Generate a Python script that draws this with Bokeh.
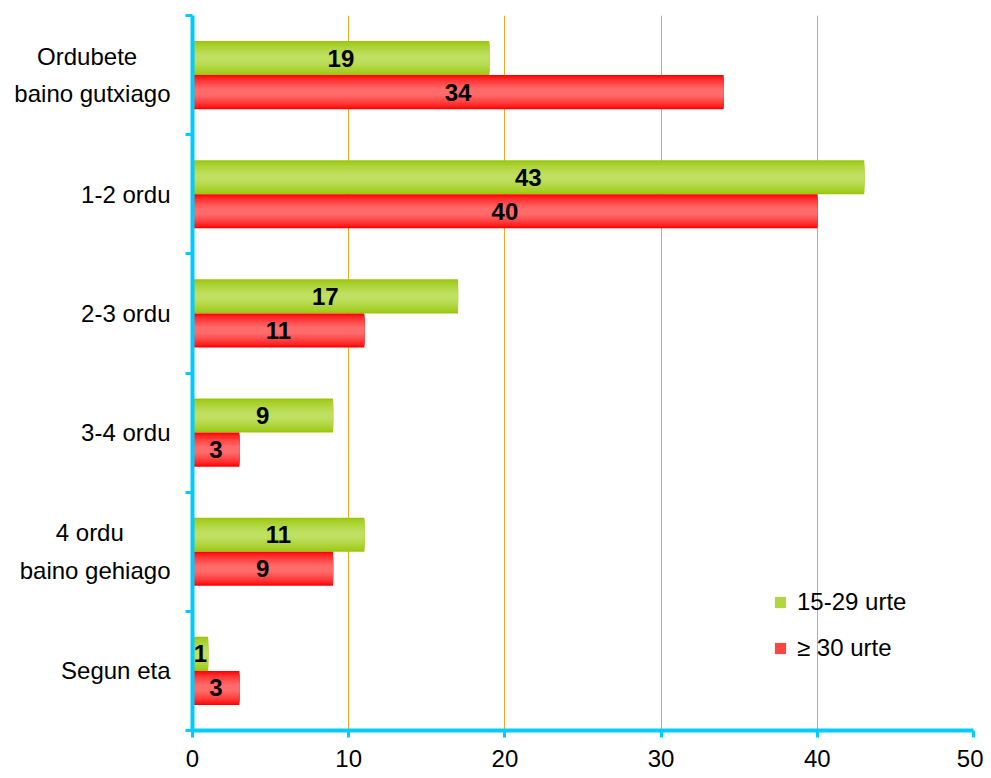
from bokeh.plotting import figure
from bokeh.models import FixedTicker, Legend, LegendItem, ColumnDataSource
from bokeh.core.properties import value
from bokeh.embed import file_html
from bokeh.resources import INLINE

categories = ["Ordubete\nbaino gutxiago", "1-2 ordu", "2-3 ordu", "3-4 ordu", "4 ordu\nbaino gehiago", "Segun eta"]
young = [19, 43, 17, 9, 11, 1]
older = [34, 40, 11, 3, 9, 3]
series_names = ["15-29 urte", "\u2265 30 urte"]
x_ticks = [0, 10, 20, 30, 40, 50]

n = len(categories)
ypos = [n - i - 0.5 for i in range(n)]


def centered(label):
    # centre the lines of a two-line label against each other
    lines = label.split("\n")
    if len(lines) == 1:
        return label
    pad = {"Ordubete": 5, "4 ordu": 7}
    return "\n".join(l + "\u00a0" * pad.get(l, 0) for l in lines)


p = figure(width=983, height=775, x_range=(0, 50), y_range=(0, n),
           output_backend="svg", toolbar_location=None,
           min_border_left=192, min_border_right=10, min_border_top=15, min_border_bottom=45)
p.outline_line_color = None
p.ygrid.grid_line_color = None
p.xgrid.grid_line_color = "#F5A623"
p.xgrid.grid_line_width = 1
p.xgrid.ticker = FixedTicker(ticks=x_ticks)

cyan = "#00CCFF"
font_px = "24px"
p.xaxis.ticker = FixedTicker(ticks=x_ticks)
p.xaxis.axis_line_color = cyan
p.xaxis.axis_line_width = 4
p.xaxis.major_tick_line_color = cyan
p.xaxis.major_tick_line_width = 3
p.xaxis.major_tick_out = 7
p.xaxis.major_tick_in = 0
p.xaxis.minor_tick_line_color = None
p.xaxis.major_label_text_font = "Liberation Sans"
p.xaxis.major_label_text_font_size = font_px
p.xaxis.major_label_text_color = "#000000"
p.xaxis.major_label_standoff = 12

p.yaxis.ticker = FixedTicker(ticks=ypos, minor_ticks=list(range(n + 1)))
p.yaxis.major_label_overrides = {y: centered(c) for y, c in zip(ypos, categories)}
p.yaxis.axis_line_color = cyan
p.yaxis.axis_line_width = 4
p.yaxis.major_tick_line_color = None
p.yaxis.major_tick_out = 7
p.yaxis.minor_tick_line_color = cyan
p.yaxis.minor_tick_line_width = 3
p.yaxis.minor_tick_out = 7
p.yaxis.minor_tick_in = 0
p.yaxis.major_label_text_font = "Liberation Sans"
p.yaxis.major_label_text_font_size = font_px
p.yaxis.major_label_text_color = "#000000"
p.yaxis.major_label_text_line_height = 1.4
p.yaxis.major_label_standoff = 15


def lerp(c1, c2, t):
    a = [int(c1[i:i + 2], 16) for i in (1, 3, 5)]
    b = [int(c2[i:i + 2], 16) for i in (1, 3, 5)]
    return "#%02x%02x%02x" % tuple(round(a[j] + (b[j] - a[j]) * t) for j in range(3))


bar_h = 0.286
offsets = [bar_h / 2, -bar_h / 2]
grads = [("#99C60A", "#BEDF5F"), ("#FF0000", "#FF6B6B")]
renderers = []
K = 12
for vals, off, (edge, mid) in zip([young, older], offsets, grads):
    src = ColumnDataSource(dict(y=[y + off for y in ypos], right=vals,
                                lx=[v / 2 for v in vals], lab=[str(v) for v in vals]))
    first = None
    for k in range(K):
        t = k / (K - 1)
        r = p.hbar(y="y", right="right", left=0, height=bar_h * (1 - 0.8 * t), source=src,
                   fill_color=lerp(edge, mid, t ** 0.7), line_color=None)
        if k == K // 2:
            first = r
    renderers.append(first)
    p.text(x="lx", y="y", text="lab", source=src, text_align="center", text_baseline="middle",
           text_font=value("Liberation Sans"), text_font_style="bold", text_font_size=font_px,
           text_color="#000000")

legend = Legend(items=[LegendItem(label=series_names[i], renderers=[renderers[i]]) for i in range(2)],
                location=(581, 68), orientation="vertical")
legend.label_text_font = "Liberation Sans"
legend.label_text_font_size = font_px
legend.label_text_color = "#000000"
legend.label_height = 25
legend.glyph_width = 14
legend.glyph_height = 14
legend.spacing = 18
legend.padding = 0
legend.margin = 0
legend.label_standoff = 10
legend.border_line_color = None
legend.background_fill_alpha = 0
p.add_layout(legend)

open("out.html", "w").write(file_html(p, INLINE))
